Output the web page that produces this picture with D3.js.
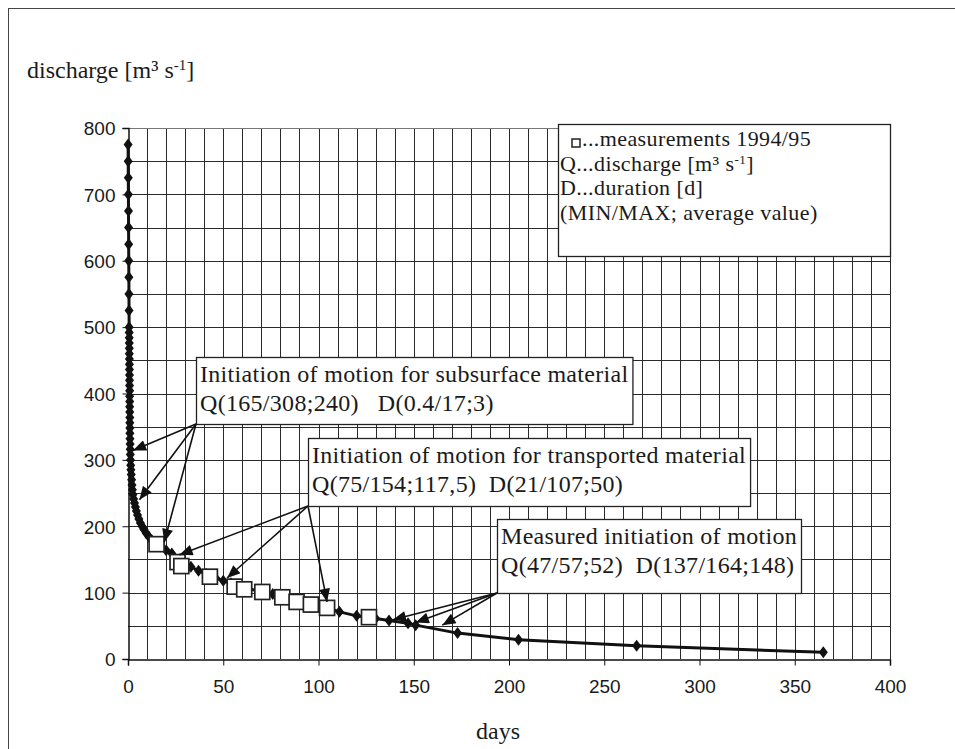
<!DOCTYPE html>
<html>
<head>
<meta charset="utf-8">
<script src="https://cdn.jsdelivr.net/npm/d3@7"></script>
<style>
  body { margin: 0; background: #fff; }
  svg { display: block; }
</style>
</head>
<body>
<svg id="chart"></svg>
<script>
// duration curve (days exceeded, discharge)
const curveDays = [0.05, 0.1, 0.15, 0.2, 0.25, 0.3, 0.35, 0.4, 0.45, 0.5, 0.55, 0.6,
  0.62, 0.64, 0.66, 0.68, 0.7, 0.72, 0.74, 0.76, 0.78, 0.8, 0.82, 0.84, 0.86, 0.88,
  0.9, 0.92, 0.94, 0.96, 0.98, 1.0, 1.05, 1.1, 1.15, 1.2, 1.3, 1.4, 1.5, 1.7, 1.9,
  2.1, 2.3, 2.6, 3, 3.4, 3.9, 4.4, 5, 5.7, 6.5, 7.4, 8.4, 9.5, 11, 12.5, 14, 17, 20,
  23, 27, 30, 33, 37, 41, 46, 50, 54, 62, 70, 76, 84, 92, 100, 105, 111, 120, 130,
  137, 147, 151, 173, 205, 267, 365];
const curveQ = [775, 750, 725, 700, 675, 650, 625, 600, 575, 550, 525, 500,
  492, 484, 476, 468, 460, 452, 444, 436, 428, 420, 412, 404, 396, 388,
  380, 372, 364, 356, 348, 340, 332, 324, 316, 308, 300, 292, 285, 278, 270,
  262, 255, 248, 241, 235, 229, 223, 217, 211, 205, 200, 195, 190, 184, 179, 175, 170, 164,
  159, 150, 143, 139, 133, 128, 122, 118, 114, 107, 101, 98, 93, 87, 81, 77, 71, 65, 61,
  58, 54, 51, 39, 29, 20, 10];

// measurements 1994/95
const measDays = [15, 26, 28, 43, 56, 61, 70.5, 81, 88.5, 96, 104.5, 126.5];
const measQ = [173, 146, 140, 124, 109, 105, 101, 93, 86, 82, 77, 63];

const xTicks = [0, 50, 100, 150, 200, 250, 300, 350, 400];
const yTicks = [0, 100, 200, 300, 400, 500, 600, 700, 800];

const notes = [
  { lines: ["Initiation of motion for subsurface material", "Q(165/308;240)   D(0.4/17;3)"],
    targets: [[2.6, 314], [6, 240], [19, 176]] },
  { lines: ["Initiation of motion for transported material", "Q(75/154;117,5)  D(21/107;50)"],
    targets: [[27, 157], [52, 122], [104.5, 86]] },
  { lines: ["Measured initiation of motion", "Q(47/57;52)  D(137/164;148)"],
    targets: [[139, 59], [151, 55], [165, 51]] }
];
const legendLines = ["...measurements 1994/95", "Q...discharge [m³ s", "D...duration [d]", "(MIN/MAX; average value)"];

const width = 955, height = 749;
const serif = "'Liberation Serif', 'Times New Roman', serif";
const sans = "'Liberation Sans', Arial, sans-serif";

const svg = d3.select("#chart").attr("width", width).attr("height", height);

const x = d3.scaleLinear().domain([0, 400]).range([128, 890]);
const y = d3.scaleLinear().domain([0, 800]).range([659, 128]);

// outer frame (right and bottom run off the picture)
svg.append("rect")
  .attr("x", 8.5).attr("y", 8.5)
  .attr("width", 960).attr("height", 760)
  .attr("fill", "none").attr("stroke", "#444").attr("stroke-width", 1);

// grid
const grid = svg.append("g").attr("stroke", "#2a2a2a").attr("stroke-width", 1);
grid.selectAll("line.v")
  .data(d3.range(10, 401, 10))
  .enter().append("line")
  .attr("x1", d => Math.round(x(d)) + 0.5).attr("x2", d => Math.round(x(d)) + 0.5)
  .attr("y1", y(0)).attr("y2", y(800));
grid.selectAll("line.h")
  .data(d3.range(50, 801, 50))
  .enter().append("line")
  .attr("y1", d => Math.round(y(d)) + 0.5).attr("y2", d => Math.round(y(d)) + 0.5)
  .attr("x1", x(0)).attr("x2", x(400))
  .attr("stroke", d => d === 800 ? "#777" : null);

// axes
const xAxis = svg.append("g")
  .attr("transform", `translate(0,${Math.round(y(0)) + 0.5})`)
  .call(d3.axisBottom(x).tickValues(xTicks).tickSize(6).tickPadding(14));
const yAxis = svg.append("g")
  .attr("transform", `translate(${Math.round(x(0)) + 0.5},0)`)
  .call(d3.axisLeft(y).tickValues(yTicks).tickSize(6).tickPadding(7));
[xAxis, yAxis].forEach(a => {
  a.select(".domain").attr("stroke", "#111").attr("stroke-width", 1.5);
  a.selectAll(".tick line").attr("stroke", "#111");
  a.selectAll("text").attr("fill", "#1a1a1a").style("font-family", sans).style("font-size", "19px");
});
yAxis.selectAll("text").attr("dy", "0.36em");

// axis titles
const yTitle = svg.append("text")
  .attr("x", 27).attr("y", 78)
  .style("font-family", serif).style("font-size", "24px").attr("fill", "#1a1a1a");
yTitle.append("tspan").text("discharge [m³ s");
yTitle.append("tspan").attr("dy", -8).style("font-size", "15px").text("-1");
yTitle.append("tspan").attr("dy", 8).text("]");

svg.append("text")
  .attr("x", 498).attr("y", 739).attr("text-anchor", "middle")
  .style("font-family", serif).style("font-size", "24px").attr("fill", "#1a1a1a")
  .text("days");

// duration curve
const curve = curveDays.map((d, i) => ({ day: d, q: curveQ[i] }));
const line = d3.line().x(d => x(d.day)).y(d => y(d.q));
svg.append("path")
  .datum(curve)
  .attr("d", line)
  .attr("fill", "none").attr("stroke", "#111").attr("stroke-width", 3)
  .attr("stroke-linejoin", "round");

svg.append("g").selectAll("path")
  .data(curve)
  .enter().append("path")
  .attr("transform", d => `translate(${x(d.day)},${y(d.q)})`)
  .attr("d", "M0,-6L4.5,0L0,6L-4.5,0Z")
  .attr("fill", "#111");

// measurements
svg.append("g").selectAll("rect")
  .data(measDays.map((d, i) => ({ day: d, q: measQ[i] })))
  .enter().append("rect")
  .attr("x", d => x(d.day) - 7.5).attr("y", d => y(d.q) - 7.5)
  .attr("width", 15).attr("height", 15)
  .attr("fill", "#fff").attr("stroke", "#222").attr("stroke-width", 1.7);

// legend
const legend = svg.append("g");
legend.append("rect")
  .attr("x", 558.5).attr("y", 124.5).attr("width", 332).attr("height", 132)
  .attr("fill", "#fff").attr("stroke", "#222").attr("stroke-width", 1.3);
legend.append("rect")
  .attr("x", 572).attr("y", 139).attr("width", 8).attr("height", 8)
  .attr("fill", "none").attr("stroke", "#222").attr("stroke-width", 1.5);
legendLines.forEach((t, i) => {
  const tx = legend.append("text")
    .attr("x", i === 0 ? 582 : 560).attr("y", 146 + i * 24.5)
    .style("font-family", serif).style("font-size", "22px")
    .style("letter-spacing", "0.4px").attr("fill", "#1a1a1a");
  tx.append("tspan").text(t);
  if (i === 1) {
    tx.append("tspan").attr("dy", -7).style("font-size", "13px").text("-1");
    tx.append("tspan").attr("dy", 7).text("]");
  }
});

// annotations
svg.append("defs").append("marker")
  .attr("id", "arrow")
  .attr("viewBox", "0 -5 12 10")
  .attr("refX", 12).attr("refY", 0)
  .attr("markerUnits", "userSpaceOnUse")
  .attr("markerWidth", 14).attr("markerHeight", 11)
  .attr("orient", "auto")
  .append("path").attr("d", "M0,-5L12,0L0,5Z").attr("fill", "#111");

const boxes = [
  { x: 196, top: 357, bottom: 424 },
  { x: 308, top: 438, bottom: 506 },
  { x: 497, top: 519, bottom: 593 }
];

notes.forEach((n, i) => {
  const b = boxes[i];
  const g = svg.append("g");
  g.selectAll("line")
    .data(n.targets)
    .enter().append("line")
    .attr("x1", b.x).attr("y1", b.bottom)
    .attr("x2", d => x(d[0])).attr("y2", d => y(d[1]))
    .attr("stroke", "#111").attr("stroke-width", 1.6)
    .attr("marker-end", "url(#arrow)");
  const box = g.append("rect")
    .attr("x", b.x + 0.5).attr("y", b.top + 0.5)
    .attr("height", b.bottom - b.top)
    .attr("fill", "#fff").attr("stroke", "#222").attr("stroke-width", 1.3);
  let w = 0;
  n.lines.forEach((t, j) => {
    const tx = g.append("text")
      .attr("x", b.x + 4).attr("y", b.top + 25 + j * 29)
      .style("font-family", serif).style("font-size", "24px")
      .style("letter-spacing", "0.3px").style("white-space", "pre")
      .attr("fill", "#1a1a1a")
      .text(t);
    w = Math.max(w, tx.node().getComputedTextLength());
  });
  box.attr("width", w + 8);
});
</script>
</body>
</html>
